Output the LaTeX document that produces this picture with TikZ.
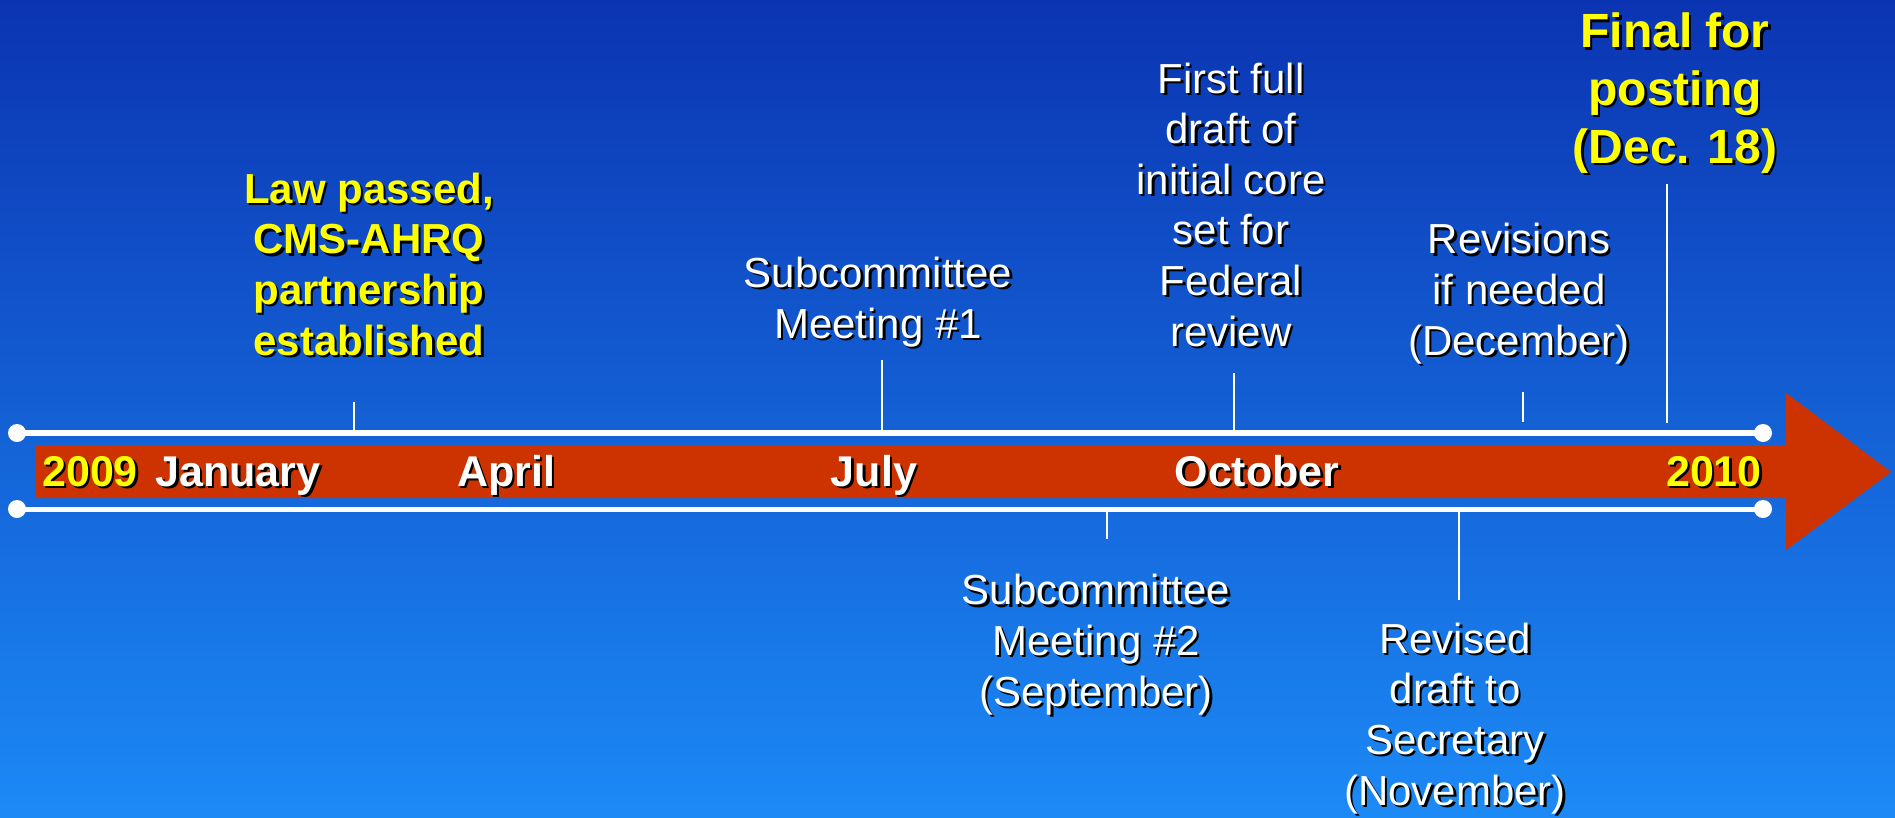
\documentclass[tikz,border=0pt]{standalone}
\usepackage{fontspec}
\setmainfont{Liberation Sans}
\definecolor{bgtop}{RGB}{11,52,178}
\definecolor{bgmid}{RGB}{22,106,218}
\definecolor{bgbot}{RGB}{28,138,246}
\definecolor{band}{RGB}{204,51,0}
\definecolor{hilite}{RGB}{255,255,0}
% a label drawn over its own black drop shadow;
% the given point is the baseline of the label's last line
\newcommand\dropnode[4]{%
  \node[#3, text=black] at ([xshift=2.5pt,yshift=-2.5pt]#2) {#4};
  \node[#3] (#1) at (#2) {#4};}
\begin{document}
\begin{tikzpicture}[x=1pt,y=-1pt,
  plain/.style={font=\fontsize{42}{50.6}\selectfont, text=white, align=center,
    inner sep=0pt, anchor=base},
  hot/.style={plain, font=\fontsize{42}{50.6}\selectfont\bfseries, text=hilite},
  bighot/.style={plain, font=\fontsize{48}{57.6}\selectfont\bfseries, text=hilite},
  month/.style={plain, font=\fontsize{43}{50}\selectfont\bfseries},
  year/.style={month, text=hilite},
  rail/.style={draw=white, line width=#1},
  tick/.style={draw=white, line width=2.5pt},
  knob/.style={fill=white}]
% background
\shade[top color=bgtop, middle color=bgmid, bottom color=bgbot]
  (0,0) rectangle (1895,817);
\useasboundingbox (0,0) rectangle (1895,817);

% the time arrow
\fill[band] (35,446) -- (1786,446) -- (1786,393) -- (1891,472)
  -- (1786,550) -- (1786,498) -- (35,498) -- cycle;

% rails with end knobs
\coordinate (tl) at (17,433);
\coordinate (tr) at (1763,433);
\coordinate (bl) at (17,509);
\coordinate (br) at (1763,509);
\draw[rail=6.5pt] (tl) -- (tr);
\draw[rail=5pt] (bl) -- (br);
\foreach \c in {tl,tr,bl,br} \fill[knob] (\c) circle (9);

% months and years
\dropnode{y09}{42,486}{year, anchor=base west}{2009}
\dropnode{jan}{238,486}{month}{January}
\dropnode{apr}{506,486}{month}{April}
\dropnode{jul}{874,486}{month}{July}
\dropnode{oct}{1257,486}{month}{October}
\dropnode{y10}{1762,486}{year, anchor=base east}{2010}

% events above the arrow
\dropnode{law}{369,355}{hot}{Law passed,\\CMS-AHRQ\\partnership\\established}
\dropnode{sc1}{878,338}{plain}{Subcommittee\\Meeting \#1}
\dropnode{ffd}{1231,346}{plain}{First full\\draft of\\initial core\\set for\\Federal\\review}
\dropnode{rev}{1519,355}{plain}{Revisions\\if needed\\(December)}
\dropnode{fin}{1675,163}{bighot}{Final for\\posting\\(Dec. 18)}

% events below the arrow
\dropnode{sc2}{1096,706}{plain}{Subcommittee\\Meeting \#2\\(September)}
\dropnode{rsd}{1455,805}{plain}{Revised\\draft to\\Secretary\\(November)}

% ticks
\coordinate (t1a) at (354,402);  \coordinate (t1b) at (354,433);
\coordinate (t2a) at (882,360);  \coordinate (t2b) at (882,433);
\coordinate (t3a) at (1234,373); \coordinate (t3b) at (1234,433);
\coordinate (t4a) at (1523,392); \coordinate (t4b) at (1523,422);
\coordinate (t5a) at (1667,184); \coordinate (t5b) at (1667,423);
\coordinate (t6a) at (1107,509); \coordinate (t6b) at (1107,539);
\coordinate (t7a) at (1459,509); \coordinate (t7b) at (1459,600);
\foreach \i in {1,...,7} \draw[tick] (t\i a) -- (t\i b);
\end{tikzpicture}
\end{document}
